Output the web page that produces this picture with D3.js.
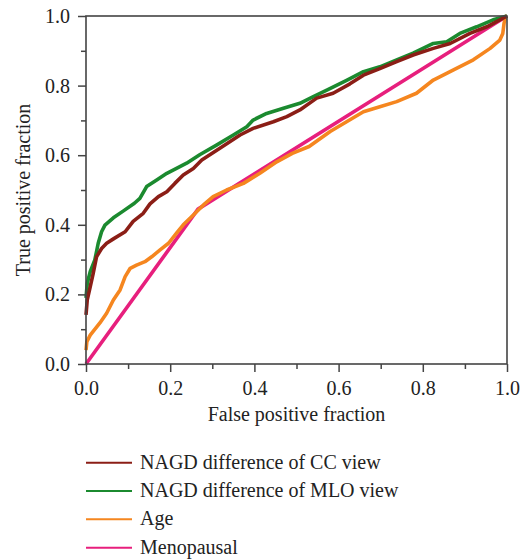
<!DOCTYPE html>
<html>
<head>
<meta charset="utf-8">
<script src="https://cdn.jsdelivr.net/npm/d3@7"></script>
<style>
  body { margin: 0; background: #fff; }
</style>
</head>
<body>
<div id="chart"></div>
<script>
// ROC curves: [false positive fraction, true positive fraction]
var ccView = [[0,0.141],[0.003,0.184],[0.01,0.222],[0.017,0.26],[0.025,0.308],[0.037,0.332],[0.049,0.347],
  [0.067,0.361],[0.093,0.38],[0.112,0.41],[0.136,0.433],[0.152,0.46],[0.172,0.481],[0.192,0.495],[0.211,0.519],
  [0.231,0.543],[0.255,0.562],[0.275,0.586],[0.318,0.62],[0.366,0.658],[0.397,0.677],[0.445,0.696],[0.477,0.711],
  [0.508,0.73],[0.548,0.764],[0.587,0.778],[0.627,0.805],[0.659,0.83],[0.698,0.849],[0.738,0.869],[0.777,0.888],
  [0.825,0.907],[0.865,0.921],[0.912,0.95],[0.952,0.969],[1,1]];
var mloView = [[0,0.19],[0.003,0.232],[0.01,0.265],[0.021,0.299],[0.029,0.347],[0.037,0.38],[0.045,0.399],
  [0.065,0.42],[0.089,0.44],[0.115,0.462],[0.128,0.476],[0.144,0.51],[0.168,0.529],[0.192,0.548],[0.215,0.562],
  [0.239,0.577],[0.271,0.602],[0.31,0.629],[0.35,0.658],[0.382,0.682],[0.397,0.701],[0.429,0.72],[0.469,0.735],
  [0.508,0.749],[0.54,0.768],[0.572,0.787],[0.619,0.815],[0.659,0.84],[0.698,0.854],[0.738,0.874],[0.777,0.893],
  [0.825,0.921],[0.857,0.926],[0.888,0.95],[0.928,0.969],[0.967,0.989],[1,1]];
var age = [[0,0.04],[0.002,0.064],[0.01,0.083],[0.033,0.118],[0.049,0.146],[0.065,0.184],[0.081,0.213],
  [0.093,0.251],[0.105,0.275],[0.12,0.284],[0.14,0.294],[0.156,0.308],[0.176,0.328],[0.196,0.347],[0.215,0.376],
  [0.231,0.4],[0.255,0.428],[0.279,0.457],[0.302,0.481],[0.334,0.5],[0.374,0.519],[0.413,0.548],[0.453,0.581],
  [0.49,0.605],[0.53,0.625],[0.58,0.668],[0.619,0.696],[0.659,0.725],[0.698,0.739],[0.738,0.754],[0.785,0.778],
  [0.825,0.816],[0.873,0.845],[0.92,0.874],[0.96,0.907],[0.983,0.931],[0.99,0.95],[0.993,0.979],[0.997,0.998],[1,1]];
var menopausal = [[0,0],[0.266,0.445],[1,1]];

var seriesNames = ["NAGD difference of CC view", "NAGD difference of MLO view", "Age", "Menopausal"];
var seriesColors = ["#8b1e16", "#1b8a2f", "#f5861f", "#e71f7d"];
var seriesData = [ccView, mloView, age, menopausal];

var majorTicks = [0, 0.2, 0.4, 0.6, 0.8, 1.0];
var minorTicks = [0.1, 0.3, 0.5, 0.7, 0.9];

var svgW = 527, svgH = 559;
var plot = {left: 86, right: 507, top: 16, bottom: 364};
var fontFam = '"Liberation Serif", "Times New Roman", serif';
var fontSize = 20;

var svg = d3.select('#chart').append('svg')
    .attr('width', svgW)
    .attr('height', svgH)
    .style('font-family', fontFam);

var x = d3.scaleLinear().domain([0, 1]).range([plot.left, plot.right]);
var y = d3.scaleLinear().domain([0, 1]).range([plot.bottom, plot.top]);

// curves first, frame on top
var line = d3.line().x(d => x(d[0])).y(d => y(d[1]));
[3, 2, 1, 0].forEach(function (i) {
    svg.append('path')
        .datum(seriesData[i])
        .attr('d', line)
        .attr('fill', 'none')
        .attr('stroke', seriesColors[i])
        .attr('stroke-width', 3.6)
        .attr('stroke-linejoin', 'round');
});

// box
svg.append('rect')
    .attr('x', plot.left).attr('y', plot.top)
    .attr('width', plot.right - plot.left).attr('height', plot.bottom - plot.top)
    .attr('fill', 'none').attr('stroke', '#444').attr('stroke-width', 1.6);

// axes: major ticks with labels, minor ticks without
var xAxis = svg.append('g').attr('transform', `translate(0,${plot.bottom})`)
    .call(d3.axisBottom(x).tickValues(majorTicks).tickSize(8).tickPadding(9).tickFormat(d3.format('.1f')));
var xMinor = svg.append('g').attr('transform', `translate(0,${plot.bottom})`)
    .call(d3.axisBottom(x).tickValues(minorTicks).tickSize(5).tickFormat(''));
var yAxis = svg.append('g').attr('transform', `translate(${plot.left},0)`)
    .call(d3.axisLeft(y).tickValues(majorTicks).tickSize(8).tickPadding(8).tickFormat(d3.format('.1f')));
var yMinor = svg.append('g').attr('transform', `translate(${plot.left},0)`)
    .call(d3.axisLeft(y).tickValues(minorTicks).tickSize(5).tickFormat(''));

[xAxis, xMinor, yAxis, yMinor].forEach(function (g) {
    g.attr('font-family', fontFam).attr('font-size', fontSize);
    g.select('.domain').remove();
    g.selectAll('line').attr('stroke', '#444').attr('stroke-width', 1.5);
    g.selectAll('text').attr('fill', '#222');
});

// axis titles
svg.append('text')
    .attr('x', (plot.left + plot.right) / 2)
    .attr('y', 421)
    .attr('text-anchor', 'middle')
    .attr('font-family', fontFam)
    .attr('font-size', fontSize)
    .attr('fill', '#222')
    .text('False positive fraction');
svg.append('text')
    .attr('transform', `translate(30,${(plot.top + plot.bottom) / 2}) rotate(-90)`)
    .attr('text-anchor', 'middle')
    .attr('font-family', fontFam)
    .attr('font-size', fontSize)
    .attr('fill', '#222')
    .text('True positive fraction');

// legend
var legendY = d3.scalePoint().domain(seriesNames).range([462.7, 547.7]);
var legend = svg.append('g');
seriesNames.forEach(function (name, i) {
    legend.append('line')
        .attr('x1', 86).attr('x2', 132)
        .attr('y1', legendY(name)).attr('y2', legendY(name))
        .attr('stroke', seriesColors[i])
        .attr('stroke-width', 2);
    legend.append('text')
        .attr('x', 140)
        .attr('y', legendY(name) + 6)
        .attr('font-family', fontFam)
        .attr('font-size', fontSize)
        .attr('fill', '#222')
        .text(name);
});
</script>
</body>
</html>
